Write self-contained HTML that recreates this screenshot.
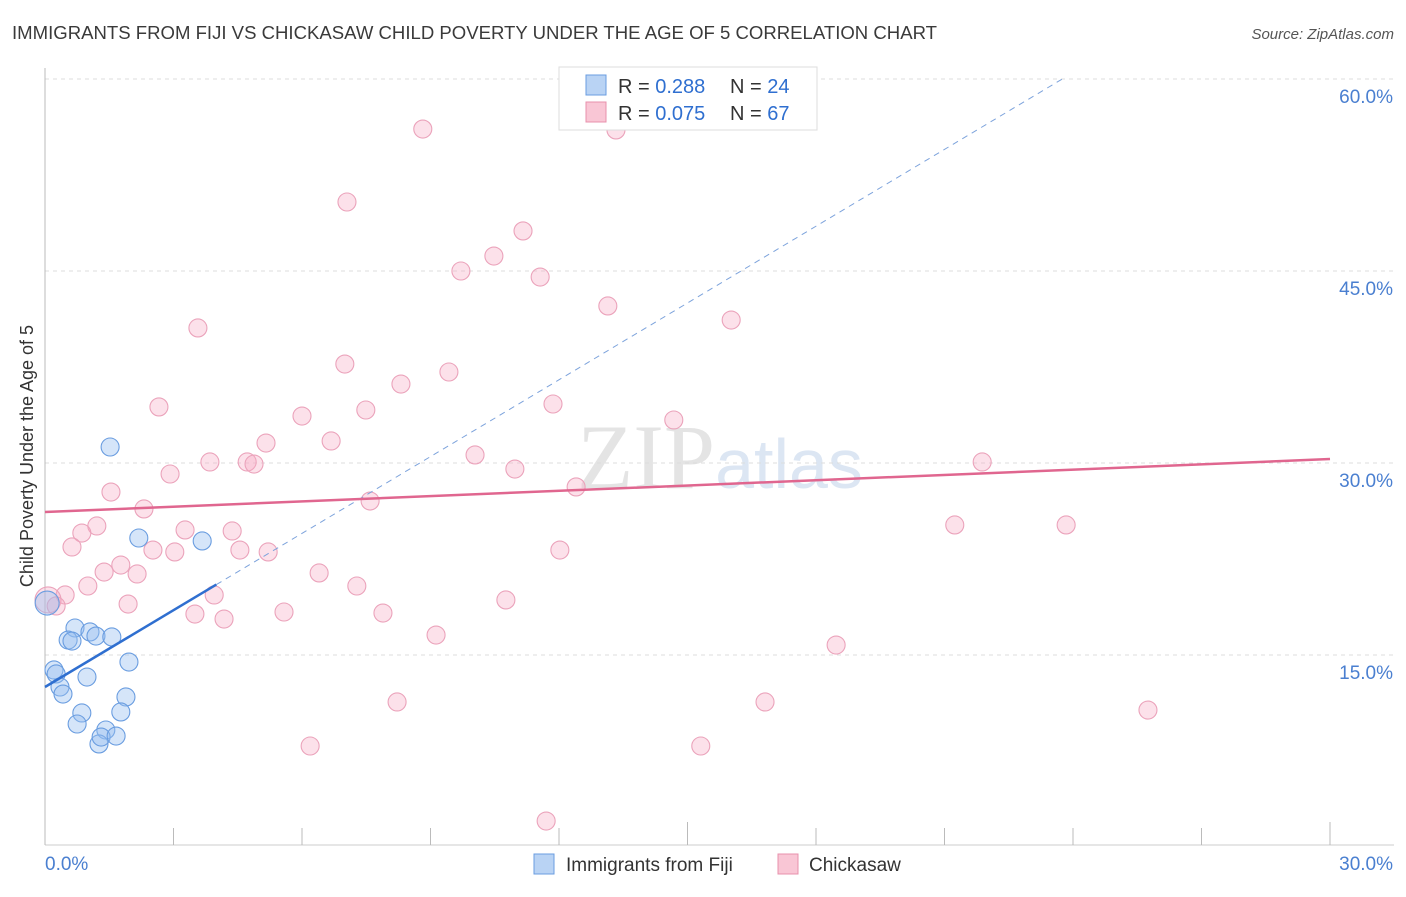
<!DOCTYPE html>
<html><head><meta charset="utf-8"><style>
body{margin:0;background:#fff;font-family:"Liberation Sans",sans-serif}
</style></head><body>
<svg width="1406" height="892" xmlns="http://www.w3.org/2000/svg" id="svg" font-family="Liberation Sans, sans-serif">
<text x="12" y="39" font-size="18" fill="#3a3a3a" textLength="925" lengthAdjust="spacingAndGlyphs">IMMIGRANTS FROM FIJI VS CHICKASAW CHILD POVERTY UNDER THE AGE OF 5 CORRELATION CHART</text>
<text x="1394" y="39" font-size="15" fill="#555" text-anchor="end" font-style="italic">Source: ZipAtlas.com</text>
<text x="720" y="488" font-size="92" fill="#e4e4e4" text-anchor="middle" font-family="Liberation Serif, serif">ZIP<tspan fill="#dce6f3" font-family="Liberation Sans, sans-serif" font-size="70">atlas</tspan></text>
<text transform="translate(33,456) rotate(-90)" font-size="18" fill="#333" text-anchor="middle">Child Poverty Under the Age of 5</text>
<g id="grid"></g><g id="axes"></g><g id="pts"></g><g id="lines"></g>
<g>
<rect x="559" y="67" width="258" height="63" fill="#fff" stroke="#ddd"/>
<rect x="586" y="75" width="20" height="20" fill="#b9d3f4" stroke="#6a9de0"/>
<rect x="586" y="102" width="20" height="20" fill="#f9c6d5" stroke="#e890ac"/>
<text x="618" y="93" font-size="20" fill="#333">R = <tspan fill="#2f6fd0">0.288</tspan></text>
<text x="730" y="93" font-size="20" fill="#333">N = <tspan fill="#2f6fd0">24</tspan></text>
<text x="618" y="120" font-size="20" fill="#333">R = <tspan fill="#2f6fd0">0.075</tspan></text>
<text x="730" y="120" font-size="20" fill="#333">N = <tspan fill="#2f6fd0">67</tspan></text>
</g>
<g>
<rect x="534" y="854" width="20" height="20" fill="#b9d3f4" stroke="#6a9de0"/>
<text x="566" y="871" font-size="19" fill="#333">Immigrants from Fiji</text>
<rect x="778" y="854" width="20" height="20" fill="#f9c6d5" stroke="#e890ac"/>
<text x="809" y="871" font-size="19" fill="#333">Chickasaw</text>
</g>
</svg>
<script>
const fijiX=[1.52,2.19,3.67,0.05,0.70,1.05,0.54,0.63,1.19,1.56,1.96,0.21,0.26,0.98,0.35,0.42,1.89,0.86,0.75,1.77,1.42,1.26,1.31,1.66];
const fijiY=[31.25,24.14,23.91,19.06,17.11,16.80,16.17,16.09,16.48,16.41,14.45,13.83,13.52,13.28,12.50,11.95,11.72,10.47,9.61,10.55,9.14,8.05,8.59,8.67];
const chiX=[8.82,13.33,7.05,11.16,10.48,9.71,11.56,13.14,16.02,3.57,7.0,9.43,8.31,2.66,11.86,7.49,6.0,14.68,6.68,5.16,10.04,3.85,4.72,4.88,21.88,2.92,10.97,1.54,12.40,7.59,2.31,1.21,3.27,4.37,0.86,0.63,2.52,4.55,3.03,5.21,12.02,21.24,23.84,1.77,1.38,2.15,6.40,1.0,7.28,0.47,3.95,0.07,0.26,1.94,10.76,3.50,4.18,5.58,7.89,9.13,18.47,8.22,16.81,25.75,6.19,15.31,11.70];
const chiY=[56.09,56.02,50.39,48.13,46.17,45.0,44.53,42.27,41.17,40.55,37.73,37.11,36.17,34.38,34.61,34.14,33.67,33.36,31.72,31.56,30.63,30.08,30.08,29.92,30.08,29.14,29.53,27.73,28.13,27.03,26.41,25.08,24.77,24.69,24.53,23.44,23.20,23.20,23.05,23.05,23.20,25.16,25.16,22.03,21.48,21.33,21.41,20.39,20.39,19.69,19.69,19.3,18.83,18.98,19.30,18.20,17.81,18.36,18.28,16.56,15.78,11.33,11.33,10.70,7.89,7.89,2.03];
const yTicks=[15,30,45,60];
const yTickLabels=["15.0%","30.0%","45.0%","60.0%"];
const fijiFit=[12.5,2.0];
const chiFit=[26.17,0.138];
const X=v=>45+v/30*1285, Y=v=>847-v*12.8;
const NS="http://www.w3.org/2000/svg";
function mk(p,t,a){const e=document.createElementNS(NS,t);for(const k in a)e.setAttribute(k,a[k]);document.getElementById(p).appendChild(e);return e;}
yTicks.forEach((t,i)=>{
 const l=mk('grid','line',{x1:45,x2:1394,y1:Y(t),y2:Y(t),stroke:'#ddd','stroke-dasharray':'4,4'});
 
 
 const tx=mk('grid','text',{x:1393,y:Y(t)+24,'font-size':19,fill:'#4a7fd0','text-anchor':'end'});
 tx.textContent=yTickLabels[i];
 
 
});
mk('axes','line',{x1:45,x2:45,y1:68,y2:845,stroke:'#bbb'});
mk('axes','line',{x1:45,x2:1394,y1:845,y2:845,stroke:'#ccc'});
for(let i=0;i<=10;i++){const x=X(i*3);const big=(i%5==0);
 const t=mk('axes','line',{x1:x,x2:x,y1:big?822:828,y2:845,stroke:'#bbb'});
 
 }
const xl0=mk('axes','text',{x:45,y:870,'font-size':19,fill:'#4a7fd0'});xl0.textContent='0.0%';


const xl1=mk('axes','text',{x:1393,y:870,'font-size':19,fill:'#4a7fd0','text-anchor':'end'});xl1.textContent='30.0%';


chiX.forEach((x,i)=>{const big=i==51;
 const c=mk('pts','circle',{cx:X(x),cy:Y(chiY[i]),r:big?13:9,fill:'rgba(245,170,195,0.35)',stroke:'#eba3bb','stroke-width':1.1});
 
 });
fijiX.forEach((x,i)=>{const big=i==3;
 const c=mk('pts','circle',{cx:X(x),cy:Y(fijiY[i]),r:big?12:9,fill:'rgba(150,190,240,0.4)',stroke:'#6a9de0','stroke-width':1.1});
 
 });
const xe=(60-fijiFit[0])/fijiFit[1];
const d=mk('lines','line',{x1:X(4),y1:Y(fijiFit[0]+4*fijiFit[1]),x2:X(xe),y2:Y(60),stroke:'#7da3dc','stroke-width':1,'stroke-dasharray':'6,5'});


const s=mk('lines','line',{x1:X(0),y1:Y(fijiFit[0]),x2:X(4),y2:Y(fijiFit[0]+4*fijiFit[1]),stroke:'#2f6fd0','stroke-width':2.5});


const p=mk('lines','line',{x1:X(0),y1:Y(chiFit[0]),x2:X(30),y2:Y(chiFit[0]+30*chiFit[1]),stroke:'#e0668f','stroke-width':2.5});


</script>
</body></html>
